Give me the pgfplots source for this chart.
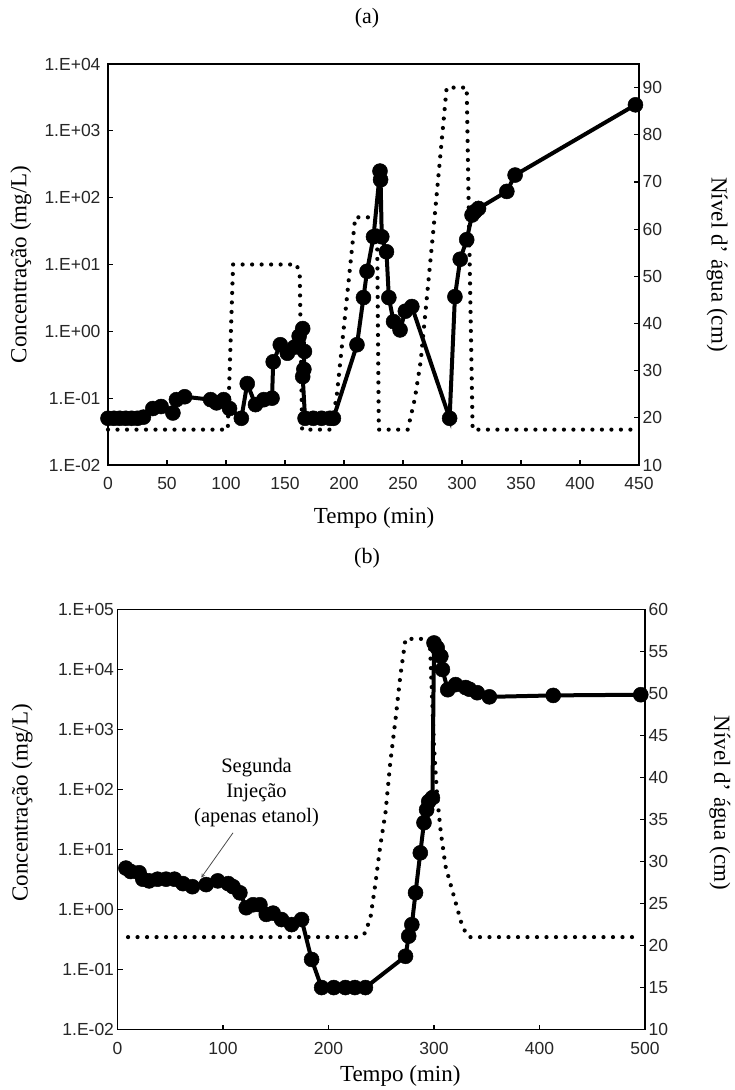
\documentclass[border=0pt]{standalone}
\usepackage{fontspec}
\setmainfont{Liberation Serif}
\setsansfont{Liberation Sans}
\usepackage{pgfplots}
\pgfplotsset{compat=1.18}
\begin{document}
\begin{tikzpicture}[x=1pt,y=1pt]
\path[use as bounding box] (0,0) rectangle (735,1090);
\pgfplotsset{
  every axis/.append style={
    scale only axis,
    clip=false,
    tick align=inside,
    major tick length=5pt,
    every tick/.style={black, line width=1.2pt},
    axis line style={line width=1.5pt, -},
    tick label style={font=\sffamily\fontsize{17.5}{20}\selectfont, text=black!85},
    /pgf/number format/assume math mode=true,
    label style={font=\fontsize{23}{27}\selectfont},
    xticklabel style={yshift=-9pt},
  },
  conc/.style={black, line width=4pt, mark=*, mark size=7.5pt, mark options={solid, line width=0.5pt, fill=black}},
  water/.style={black, line width=4.2pt, line cap=round, dash pattern=on 0pt off 9.5pt, no marks},
}
% ---------------- panel (a) ----------------
\node[font=\fontsize{22}{26}\selectfont] at (367,1072) {(a)};
\begin{axis}[at={(108pt,625pt)}, anchor=south west, width=531pt, height=401pt,
  xmin=0, xmax=450, ymode=log, log basis y=10, ymin=1e-2, ymax=1e4,
  xtick={0,50,...,450}, ytick={1e-2,1e-1,1,10,100,1000,10000},
  yticklabels={1.E-02,1.E-01,1.E+00,1.E+01,1.E+02,1.E+03,1.E+04},
  yminorticks=false, xtick pos=bottom, ytick pos=left,
  yticklabel style={xshift=-4pt},
  xlabel={Tempo (min)}, xlabel style={at={(axis description cs:0.501,-0.132)}, anchor=center},
  ylabel={Concentração (mg/L)}, ylabel style={at={(axis description cs:-0.164,0.5)}, anchor=center},
]
\addplot[conc] coordinates {
(0,0.05)(5,0.05)(10,0.05)(15,0.05)(20,0.05)(25,0.05)(30,0.052)(38,0.07)(45,0.075)(55,0.06)(58,0.095)(65,0.105)
(87,0.095)(92,0.085)(98,0.095)(103,0.07)(113,0.05)(118,0.165)(125,0.08)(132,0.095)(139,0.1)(140,0.35)(146,0.63)
(152,0.47)(158,0.58)(162,0.85)(165,1.1)(166.5,0.5)(166,0.27)(165,0.21)(167,0.05)(174,0.05)(181,0.05)(188,0.05)(191,0.05)
(211,0.63)(216.5,3.2)(219.5,7.9)(225,26)(230.5,250)(231,185)(232,26)(236,15.5)(238,3.2)(242,1.4)(247.5,1.05)(252,2.0)(257.5,2.35)
(289.5,0.05)(294,3.3)(298.5,12)(304,23.5)(308.5,55)(311,62)(314,69)(338,124)(345,218)(447,2450)};
\end{axis}
\begin{axis}[at={(108pt,625pt)}, anchor=south west, width=531pt, height=401pt,
  xmin=0, xmax=450, ymin=10, ymax=95,
  axis x line=none, axis y line*=right,
  ytick={10,20,...,90},
  ylabel={Nível d’ água (cm)}, ylabel style={at={(axis description cs:1.147,0.5)}, anchor=center, rotate=180},
]
\addplot[water] coordinates {
(0,17.5)(101.5,17.5)(106,52.5)(160,52.5)(162.5,50)(164.5,17.5)(189,17.5)(194,25)(200,39.5)(206,54)(209.5,62.5)
(224,62.5)(228,61)(229.5,17.5)(254,17.5)(260,24)(265,32)(276,60.5)(287,90)(304,90)(306,60)(309,17.5)(450,17.5)};
\end{axis}
% ---------------- panel (b) ----------------
\node[font=\fontsize{22}{26}\selectfont] at (367,532) {(b)};
\begin{axis}[at={(117.5pt,60.5pt)}, anchor=south west, width=527.5pt, height=420pt,
  xmin=0, xmax=500, ymode=log, log basis y=10, ymin=1e-2, ymax=1e5,
  xtick={0,100,...,500}, ytick={1e-2,1e-1,1,10,100,1000,10000,100000},
  yticklabels={1.E-02,1.E-01,1.E+00,1.E+01,1.E+02,1.E+03,1.E+04,1.E+05},
  yminorticks=false, xtick pos=bottom, ytick pos=left,
  xlabel={Tempo (min)}, xlabel style={at={(axis description cs:0.536,-0.111)}, anchor=center},
  ylabel={Concentração (mg/L)}, ylabel style={at={(axis description cs:-0.181,0.54)}, anchor=center},
]
\addplot[conc] coordinates {
(8,4.9)(12.5,4.3)(20.5,4.1)(24,3.2)(30,3.0)(38,3.2)(46,3.2)(54,3.2)(62,2.7)(71,2.4)(84,2.6)(95,3.0)(105,2.7)(109.5,2.4)
(116,1.9)(122,1.07)(128.5,1.2)(135,1.2)(141,0.83)(147.5,0.87)(155.5,0.68)(165,0.56)(174.5,0.68)(184,0.147)
(193.5,0.05)(205,0.05)(216,0.05)(225,0.05)(235,0.05)(273,0.166)(276,0.36)(279,0.56)(282.5,1.9)(287,8.8)(290.5,28)
(293,46)(295,63)(298.5,73)(300,27700)(303,23000)(306.5,16600)(308,10000)(313,4600)(320.5,5600)(330,5000)(333.5,4700)
(341,4100)(352.5,3500)(413,3700)(496,3800)};
\draw[->, >=stealth, black!70, line width=0.8pt] (axis cs:109.5,19) -- (axis cs:79.4,3.4);
\node[align=center, font=\fontsize{20.5}{25}\selectfont] at (axis cs:131.8,88) {Segunda\\Injeção\\(apenas etanol)};
\end{axis}
\begin{axis}[at={(117.5pt,60.5pt)}, anchor=south west, width=527.5pt, height=420pt,
  xmin=0, xmax=500, ymin=10, ymax=60,
  axis x line=none, axis y line*=right,
  ytick={10,15,...,60},
  ylabel={Nível d’ água (cm)}, ylabel style={at={(axis description cs:1.142,0.54)}, anchor=center, rotate=180},
]
\addplot[water] coordinates {
(10,21)(228,21)(235,21.5)(240,23.5)(244.5,27.4)(249,31.8)(254,35.8)(258.5,41.7)(263.5,46.9)(268,52)(273,56.5)
(296,56.5)(300,43.7)(303,37.7)(306.5,33.4)(311,29.4)(319,25.8)(327,22.2)(333,21)(496,21)};
\end{axis}
\end{tikzpicture}
\end{document}
